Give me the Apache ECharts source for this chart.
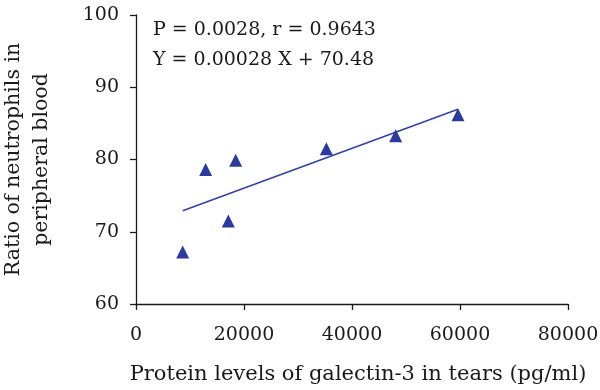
<!DOCTYPE html>
<html>
<head>
<meta charset="utf-8">
<script src="https://cdn.jsdelivr.net/npm/echarts@6/dist/echarts.min.js"></script>
<style>html,body{margin:0;padding:0;background:#fff}#c{width:600px;height:390px}</style>
</head>
<body>
<div id="c"></div>
<script>
const galectinLevels = [8650, 12900, 17100, 18460, 35250, 48090, 59630];
const neutrophilRatios = [67.2, 78.6, 71.5, 79.9, 81.5, 83.3, 86.2];
const trendX = [8650, 59630];
const trendY = [72.9, 86.95];
const xTicks = [0, 20000, 40000, 60000, 80000];
const yTicks = [60, 70, 80, 90, 100];
const statLines = ['P = 0.0028, r = 0.9643', 'Y = 0.00028 X + 70.48'];
const xTitle = 'Protein levels of galectin-3 in tears (pg/ml)';
const yTitle = 'Ratio of neutrophils in\nperipheral blood';

const font = 'DejaVu Serif';
const fs = 19;
const ink = '#1a1a1a';
const chart = echarts.init(document.getElementById('c'), null, {renderer: 'canvas'});
const axisCommon = {
  axisLine: {show: true, onZero: false, lineStyle: {color: ink, width: 1.3}},
  axisTick: {show: true, inside: false, length: 6, lineStyle: {color: ink, width: 1.3}},
  splitLine: {show: false},
};
chart.setOption({
  animation: false,
  backgroundColor: '#fff',
  grid: {left: 136, right: 32, top: 15, bottom: 86, containLabel: false, outerBoundsMode: 'none'},
  xAxis: Object.assign({}, axisCommon, {
    type: 'value', min: xTicks[0], max: xTicks[xTicks.length - 1], interval: xTicks[1] - xTicks[0],
    name: xTitle, nameLocation: 'middle', nameGap: 60,
    nameTextStyle: {fontFamily: font, fontSize: 21, color: ink, padding: [0, 0, 0, 12]},
    axisLabel: {fontFamily: font, fontSize: fs, color: ink, margin: 22, formatter: v => String(v)},
  }),
  yAxis: Object.assign({}, axisCommon, {
    type: 'value', min: yTicks[0], max: yTicks[yTicks.length - 1], interval: yTicks[1] - yTicks[0],
    name: yTitle, nameLocation: 'middle', nameGap: 80, nameRotate: 90,
    nameTextStyle: {fontFamily: font, fontSize: 20.5, color: ink, lineHeight: 28},
    axisLabel: {fontFamily: font, fontSize: fs, color: ink, margin: 17, formatter: v => String(v)},
  }),
  series: [
    {
      type: 'scatter', symbol: 'triangle', symbolSize: 13,
      itemStyle: {color: '#2a3a9e', opacity: 1},
      data: galectinLevels.map((x, i) => [x, neutrophilRatios[i]]),
      z: 3,
    },
    {
      type: 'line', symbol: 'none', lineStyle: {color: '#2f42b0', width: 1.6},
      data: trendX.map((x, i) => [x, trendY[i]]),
      z: 2,
    },
  ],
  graphic: [
    {type: 'text', left: 153, top: 21, style: {text: statLines[0], fontFamily: font, fontSize: fs, fill: ink}},
    {type: 'text', left: 153, top: 51, style: {text: statLines[1], fontFamily: font, fontSize: fs, fill: ink}},
  ],
});
</script>
</body>
</html>
